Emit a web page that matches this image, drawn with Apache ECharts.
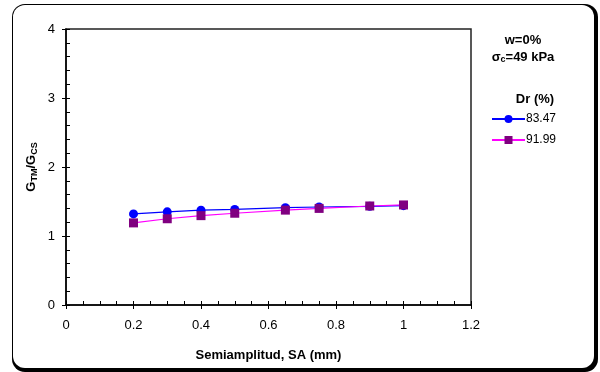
<!DOCTYPE html>
<html>
<head>
<meta charset="utf-8">
<script src="https://cdn.jsdelivr.net/npm/echarts@6/dist/echarts.min.js"></script>
<style>
html,body{margin:0;padding:0;background:#fff;}
#chart{width:600px;height:372px;}
</style>
</head>
<body>
<div id="chart"></div>
<script>
var saA = [0.2, 0.3, 0.4, 0.5, 0.65, 0.75, 0.9, 1.0];
var ratioA = [1.32, 1.35, 1.375, 1.385, 1.41, 1.42, 1.43, 1.44];
var saB = [0.2, 0.3, 0.4, 0.5, 0.65, 0.75, 0.9, 1.0];
var ratioB = [1.19, 1.25, 1.295, 1.33, 1.375, 1.40, 1.435, 1.45];
var nameA = '83.47';
var nameB = '91.99';

var FONT = '"Liberation Sans", Arial, sans-serif';
var chart = echarts.init(document.getElementById('chart'), null, {renderer: 'canvas'});

function pairs(xs, ys){ return xs.map(function(x,i){ return [x, ys[i]]; }); }

var axisLbl = {color:'#000', fontFamily: FONT, fontSize: 13};

chart.setOption({
  animation: false,
  backgroundColor: '#fff',
  graphic: [
    {type:'rect', z:-10, shape:{x:12, y:4, width:586, height:368, r:13}, style:{fill:'#000'}},
    {type:'rect', z:-9, shape:{x:13, y:5, width:581, height:363, r:12}, style:{fill:'#fff'}},
    {type:'text', style:{text:'w=0%', x:523, y:40, textAlign:'center', textVerticalAlign:'middle', font:'bold 13px ' + FONT, fill:'#000'}},
    {type:'text', style:{text:'σ{sub|c}=49 kPa', x:523, y:57, textAlign:'center', textVerticalAlign:'middle', font:'bold 13px ' + FONT, fill:'#000', rich:{sub:{fontSize:9, fontWeight:'bold', fontFamily:FONT, verticalAlign:'bottom', padding:[6,0,0,0]}}}},
    {type:'text', style:{text:'Dr (%)', x:535, y:99, textAlign:'center', textVerticalAlign:'middle', font:'bold 13px ' + FONT, fill:'#000'}}
  ],
  grid: {left:66, top:29, right:129, bottom:67, show:true, borderColor:'#222', borderWidth:1.5, backgroundColor:'transparent'},
  legend: {
    left: 486, top: 108, orient: 'vertical', itemWidth: 33, itemHeight: 10, itemGap: 9,
    textStyle: {color:'#000', fontFamily: FONT, fontSize: 12, padding:[0,0,0,-4]},
    data: [nameA, nameB]
  },
  xAxis: [
    {type:'value', min:0, max:1.2, interval:0.2, position:'bottom',
     name:'Semiamplitud, SA (mm)', nameLocation:'middle', nameGap:44,
     nameTextStyle:{color:'#000', fontFamily:FONT, fontSize:13, fontWeight:'bold'},
     axisLine:{show:true, onZero:false, lineStyle:{color:'#000', width:1.5}},
     axisTick:{show:true, inside:true, length:4, lineStyle:{color:'#000'}},
     minorTick:{show:true, splitNumber:4, length:4, lineStyle:{color:'#000'}},
     axisLabel:Object.assign({margin:14, formatter:function(v){return String(Math.round(v*10)/10);}}, axisLbl),
     splitLine:{show:false}},
    {type:'value', min:0, max:1.2, interval:0.2, position:'bottom', offset:0,
     axisLine:{show:false, onZero:false}, axisTick:{show:true, inside:false, length:4, lineStyle:{color:'#000'}},
     axisLabel:{show:false}, splitLine:{show:false}}
  ],
  yAxis: [
    {type:'value', min:0, max:4, interval:1, position:'left',
     name:'G{sub|TM}/G{sub|CS}', nameLocation:'middle', nameGap:27, nameRotate:90, nameMoveOverlap:false,
     nameTextStyle:{color:'#000', fontFamily:FONT, fontSize:13, fontWeight:'bold',
       rich:{sub:{fontSize:9, fontWeight:'bold', fontFamily:FONT, padding:[6,0,0,0]}}},
     axisLine:{show:true, onZero:false, lineStyle:{color:'#000', width:1.5}},
     axisTick:{show:true, inside:true, length:4, lineStyle:{color:'#000'}},
     minorTick:{show:true, splitNumber:5, length:4, lineStyle:{color:'#000'}},
     axisLabel:Object.assign({margin:11}, axisLbl),
     splitLine:{show:false}},
    {type:'value', min:0, max:4, interval:1, position:'left', offset:0,
     axisLine:{show:false, onZero:false}, axisTick:{show:true, inside:false, length:4, lineStyle:{color:'#000'}},
     axisLabel:{show:false}, splitLine:{show:false}}
  ],
  series: [
    {name:nameA, type:'line', data:pairs(saA, ratioA), symbol:'circle', symbolSize:9,
     lineStyle:{color:'#0000ff', width:1.2}, itemStyle:{color:'#0000ff'}, z:3},
    {name:nameB, type:'line', data:pairs(saB, ratioB), symbol:'rect', symbolSize:9,
     lineStyle:{color:'#ff00ff', width:1.2}, itemStyle:{color:'#800080'}, z:4}
  ]
});
</script>
</body>
</html>
